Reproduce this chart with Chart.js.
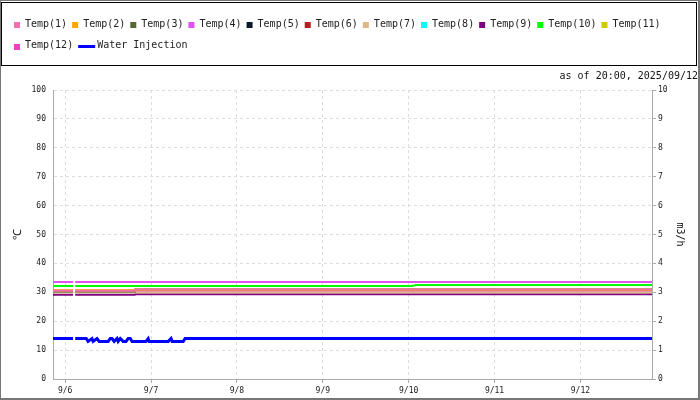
<!DOCTYPE html>
<html><head><meta charset="utf-8">
<script src="https://cdn.jsdelivr.net/npm/chart.js@4.4.1/dist/chart.umd.min.js"></script>
<style>
html,body{margin:0;padding:0;background:#fff;}
#wrap{width:700px;height:400px;box-sizing:border-box;border-top:1px solid #777;border-left:1px solid #777;border-right:2px solid #777;border-bottom:2px solid #777;}
canvas{display:block;}
</style></head><body>
<div id="wrap"><canvas id="c" width="697" height="397"></canvas></div>
<script>
// ---- data ----
const dayLabels = ['9/6','9/7','9/8','9/9','9/10','9/11','9/12'];
const dayHours  = [0, 24, 48, 72, 96, 120, 144];   // hours after 9/6 00:00
const yLeftTicks = [0,10,20,30,40,50,60,70,80,90,100];
const yRightTicks = [0,1,2,3,4,5,6,7,8,9,10];
const asOfText = 'as of 20:00, 2025/09/12';

const seriesLabels = ['Temp(1)','Temp(2)','Temp(3)','Temp(4)','Temp(5)','Temp(6)','Temp(7)','Temp(8)','Temp(9)','Temp(10)','Temp(11)','Temp(12)'];
const seriesColors = ['#f46fb0','#ffa500','#556b2f','#dd55ee','#0a1a2a','#b22222','#deb887','#00ffff','#800080','#00ff00','#cccc00','#f23fc2'];

// sample times (hours) for temperature series
const tempHours = [-3.4, 2.2, 2.5, 2.8, 19.5, 19.6, 97, 98, 164];
const temp1  = [30.5, 30.5, null, 30.5, 30.5, 30.95, 30.95, 30.95, 30.95];
const temp2  = [30.7, 30.7, null, 30.7, 30.7, 30.9, 30.9, 30.9, 30.9];
const temp3  = [30.3, 30.3, null, 30.3, 30.3, 30.95, 30.95, 30.95, 30.95];
const temp4  = [33.6, 33.6, null, 33.6, 33.6, 33.6, 33.6, 33.6, 33.6];
const temp5  = [];
const temp6  = [];
const temp7  = [29.9, 29.9, null, 29.9, 29.9, 29.9, 29.9, 29.9, 29.9];
const temp8  = [];
const temp9  = [29.15, 29.15, null, 29.15, 29.15, 29.3, 29.3, 29.3, 29.3];
const temp10 = [32.2, 32.2, null, 32.2, 32.2, 32.2, 32.2, 32.5, 32.5];
const temp11 = [30.5, 30.5, null, 30.5, 30.5, 30.9, 30.9, 30.9, 30.9];
const temp12 = [30.5, 30.5, null, 30.5, 30.5, 30.55, 30.55, 30.55, 30.55];
const tempValues = [temp1,temp2,temp3,temp4,temp5,temp6,temp7,temp8,temp9,temp10,temp11,temp12];

// water injection (m3/h)
const waterHours  = [-3.4, 2.2, 2.5, 2.8, 5.9, 6.4, 7.5, 7.8, 8.9, 9.5, 12.0, 12.6, 13.1, 13.7, 14.5, 14.8, 15.4, 16.2, 17.0, 17.6, 18.2, 18.7, 22.6, 23.2, 23.5, 28.8, 29.6, 29.9, 33.0, 33.5, 164];
const waterValues = [1.4, 1.4, null, 1.4, 1.4, 1.3, 1.4, 1.3, 1.4, 1.3, 1.3, 1.4, 1.4, 1.3, 1.4, 1.3, 1.4, 1.3, 1.3, 1.4, 1.4, 1.3, 1.3, 1.4, 1.3, 1.3, 1.4, 1.3, 1.3, 1.4, 1.4];

// ---- chart ----
const FONT = '"DejaVu Sans Mono", monospace';
const datasets = seriesLabels.map((lab, i) => ({
  label: lab,
  data: tempValues[i].map((v, k) => ({x: tempHours[k], y: v})),
  borderColor: seriesColors[i],
  backgroundColor: seriesColors[i],
  borderWidth: 2,
  pointRadius: 0,
  tension: 0,
  yAxisID: 'y'
}));
datasets.push({
  label: 'Water Injection',
  data: waterValues.map((v, k) => ({x: waterHours[k], y: v})),
  borderColor: '#0000ff',
  backgroundColor: '#0000ff',
  borderWidth: 3,
  pointRadius: 0,
  tension: 0,
  yAxisID: 'y1',
  legendLine: true
});

const boxLegend = {
  id: 'boxLegend',
  afterDraw(chart) {
    const ctx = chart.ctx;
    ctx.save();
    ctx.strokeStyle = '#000';
    ctx.lineWidth = 1;
    ctx.strokeRect(0.5, 1.5, chart.width - 2, 63);
    ctx.font = '10px ' + FONT;
    ctx.textBaseline = 'middle';
    ctx.textAlign = 'left';
    let x = 13, y = 23;
    const rowH = 21.5, maxX = chart.width - 10;
    chart.data.datasets.forEach(ds => {
      const tw = ctx.measureText(ds.label).width;
      const mw = ds.legendLine ? 19 : 11;
      if (x + mw + tw > maxX) { x = 13; y += rowH; }
      if (ds.legendLine) {
        ctx.strokeStyle = ds.borderColor; ctx.lineWidth = 3;
        ctx.beginPath(); ctx.moveTo(x, Math.round(y) + 0.5); ctx.lineTo(x + 17, Math.round(y) + 0.5); ctx.stroke();
      } else {
        ctx.fillStyle = ds.borderColor;
        ctx.fillRect(x, Math.round(y) - 2, 6, 6);
      }
      ctx.fillStyle = '#222';
      ctx.fillText(ds.label, x + mw, y);
      x += mw + tw + 5;
    });
    ctx.restore();
  }
};

new Chart(document.getElementById('c'), {
  type: 'line',
  data: { datasets },
  plugins: [boxLegend],
  options: {
    responsive: false,
    animation: false,
    layout: { padding: { top: 66, left: 0, right: 0, bottom: 0 } },
    plugins: {
      legend: { display: false },
      tooltip: { enabled: false },
      subtitle: {
        display: true, text: asOfText, align: 'end', position: 'top',
        color: '#111', font: { family: FONT, size: 10 }, padding: { top: 3.5, bottom: 7.5 }
      }
    },
    scales: {
      x: {
        type: 'linear', min: -3.4, max: 164,
        afterBuildTicks(scale) { scale.ticks = dayHours.map(v => ({ value: v })); },
        afterFit(scale) { scale.height = 19; },
        ticks: {
          autoSkip: false, maxRotation: 0, padding: 3, color: '#1a1a1a',
          font: { family: FONT, size: 8 },
          callback: (v) => dayLabels[dayHours.indexOf(v)]
        },
        grid: { color: '#dddddd', tickColor: '#aaaaaa', tickLength: 4, drawTicks: true, tickBorderDash: [] },
        border: { display: true, color: '#aaaaaa', dash: [3, 3] }
      },
      y: {
        position: 'left', min: 0, max: 100,
        afterBuildTicks(scale) { scale.ticks = yLeftTicks.map(v => ({ value: v })); },
        afterFit(scale) { scale.width = 52; },
        ticks: { padding: 7, color: '#1a1a1a', font: { family: FONT, size: 8 } },
        grid: { color: '#dddddd', drawTicks: false },
        border: { display: true, color: '#aaaaaa', dash: [3, 3] },
        title: { display: true, text: '℃', color: '#111', font: { family: FONT, size: 11 }, padding: { top: 10.4, bottom: 0 } }
      },
      y1: {
        position: 'right', min: 0, max: 10,
        afterBuildTicks(scale) { scale.ticks = yRightTicks.map(v => ({ value: v })); },
        afterFit(scale) { scale.width = 46; },
        ticks: { padding: 2, color: '#1a1a1a', font: { family: FONT, size: 8 } },
        grid: { drawOnChartArea: false, drawTicks: true, tickLength: 4, tickColor: '#aaaaaa' },
        border: { display: true, color: '#aaaaaa' },
        title: { display: true, text: 'm3/h', color: '#111', font: { family: FONT, size: 10 }, padding: { top: 12.5, bottom: 0 } }
      }
    }
  }
});
</script>
</body></html>
